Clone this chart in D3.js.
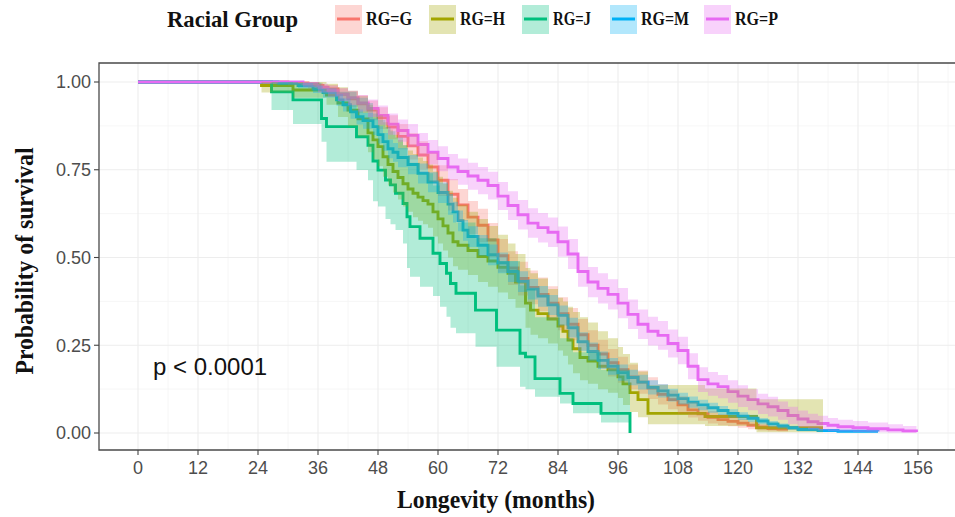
<!DOCTYPE html>
<html>
<head>
<meta charset="utf-8">
<script src="https://cdn.jsdelivr.net/npm/d3@7"></script>
<style>
  body { margin: 0; background: #fff; }
</style>
</head>
<body>
<div id="chart"></div>
<script>
// ---- data (months, survival probability, CI) ----
var groupNames = ["RG=G", "RG=H", "RG=J", "RG=M", "RG=P"];
var groupColors = ["#F8766D", "#A3A500", "#00BF7D", "#00B0F6", "#E76BF3"];
var xTicks = [0, 12, 24, 36, 48, 60, 72, 84, 96, 108, 120, 132, 144, 156];
var yTicks = [0, 0.25, 0.5, 0.75, 1];
var pLabel = "p < 0.0001";

var gTime = [0, 30, 34, 37, 40, 42, 44, 46, 48, 50, 52, 54, 56, 58, 60, 62, 64, 66, 68, 70, 72, 74, 76, 78, 80, 82, 84, 86, 88, 90, 92, 94, 96, 98, 100, 102, 104, 106, 108, 110, 112, 114, 116, 118, 120, 122, 124, 126, 128, 130];
var gSurv = [1, 0.997, 0.99, 0.98, 0.965, 0.952, 0.938, 0.92, 0.898, 0.872, 0.845, 0.818, 0.792, 0.758, 0.72, 0.68, 0.65, 0.615, 0.592, 0.55, 0.505, 0.47, 0.44, 0.415, 0.395, 0.37, 0.34, 0.31, 0.28, 0.25, 0.225, 0.2, 0.18, 0.16, 0.145, 0.128, 0.11, 0.095, 0.08, 0.066, 0.055, 0.045, 0.038, 0.033, 0.028, 0.022, 0.017, 0.013, 0.011, 0.011];
var gHi = [1, 1, 0.998, 0.992, 0.982, 0.973, 0.962, 0.947, 0.928, 0.905, 0.88, 0.855, 0.831, 0.799, 0.763, 0.724, 0.695, 0.661, 0.639, 0.598, 0.553, 0.518, 0.488, 0.463, 0.443, 0.418, 0.387, 0.356, 0.325, 0.293, 0.266, 0.239, 0.217, 0.195, 0.178, 0.159, 0.139, 0.122, 0.105, 0.088, 0.075, 0.063, 0.054, 0.047, 0.041, 0.033, 0.027, 0.021, 0.018, 0.018];
var gLo = [1, 0.99, 0.978, 0.965, 0.946, 0.929, 0.912, 0.891, 0.866, 0.837, 0.808, 0.779, 0.751, 0.715, 0.675, 0.634, 0.603, 0.567, 0.544, 0.501, 0.457, 0.422, 0.392, 0.367, 0.347, 0.322, 0.293, 0.264, 0.235, 0.207, 0.184, 0.161, 0.143, 0.125, 0.112, 0.097, 0.081, 0.068, 0.055, 0.044, 0.035, 0.027, 0.022, 0.019, 0.015, 0.011, 0.007, 0.005, 0.004, 0.004];

var hTime = [0, 24.7, 31, 37.7, 40, 42, 44, 46, 47, 48, 49, 50, 51, 52, 53, 54, 55, 56, 57, 58, 59, 60, 61, 62, 63, 64, 66, 68, 70, 72, 74, 75.5, 77.5, 78.5, 80, 82, 84, 85, 86, 87, 88.4, 90, 92, 94, 96, 97, 98.4, 100, 102, 113.4, 123.7, 137];
var hSurv = [1, 0.99, 0.977, 0.963, 0.94, 0.92, 0.895, 0.855, 0.835, 0.816, 0.787, 0.765, 0.745, 0.728, 0.71, 0.695, 0.683, 0.672, 0.662, 0.652, 0.63, 0.61, 0.59, 0.57, 0.545, 0.535, 0.52, 0.503, 0.49, 0.472, 0.455, 0.43, 0.37, 0.35, 0.34, 0.325, 0.305, 0.29, 0.265, 0.24, 0.215, 0.205, 0.19, 0.18, 0.16, 0.14, 0.115, 0.095, 0.056, 0.047, 0.015, 0.015];
var hHi = [1, 1, 1, 0.995, 0.985, 0.975, 0.96, 0.935, 0.92, 0.905, 0.885, 0.865, 0.85, 0.835, 0.82, 0.805, 0.795, 0.785, 0.775, 0.765, 0.745, 0.73, 0.71, 0.69, 0.67, 0.65, 0.63, 0.61, 0.59, 0.565, 0.54, 0.51, 0.47, 0.455, 0.44, 0.41, 0.385, 0.375, 0.36, 0.345, 0.33, 0.315, 0.29, 0.27, 0.245, 0.225, 0.2, 0.175, 0.137, 0.127, 0.096, 0.096];
var hLo = [1, 0.97, 0.955, 0.935, 0.9, 0.875, 0.845, 0.8, 0.78, 0.76, 0.73, 0.705, 0.685, 0.665, 0.645, 0.63, 0.615, 0.605, 0.595, 0.585, 0.56, 0.54, 0.52, 0.5, 0.475, 0.465, 0.45, 0.43, 0.417, 0.4, 0.382, 0.357, 0.3, 0.28, 0.27, 0.255, 0.235, 0.22, 0.195, 0.17, 0.15, 0.14, 0.125, 0.115, 0.1, 0.08, 0.06, 0.045, 0.025, 0.02, 0.002, 0.002];

var jTime = [0, 26.7, 31, 36.7, 37.7, 43.7, 46, 47, 48, 49.5, 50.5, 51.5, 53, 53.8, 54.4, 56.4, 59, 60.4, 61.7, 62.5, 63.6, 67.5, 71.7, 76.4, 77.5, 79.4, 84.4, 87, 92.6, 98.4];
var jSurv = [1, 0.972, 0.949, 0.896, 0.873, 0.844, 0.82, 0.775, 0.749, 0.721, 0.707, 0.683, 0.654, 0.616, 0.588, 0.555, 0.512, 0.483, 0.455, 0.426, 0.398, 0.35, 0.293, 0.227, 0.217, 0.155, 0.113, 0.084, 0.056, 0];
var jHi = [1, 1, 0.998, 0.98, 0.972, 0.955, 0.94, 0.91, 0.892, 0.872, 0.86, 0.842, 0.82, 0.79, 0.77, 0.74, 0.705, 0.68, 0.655, 0.63, 0.6, 0.555, 0.49, 0.42, 0.41, 0.33, 0.27, 0.23, 0.18, 0.18];
var jLo = [1, 0.92, 0.88, 0.83, 0.773, 0.749, 0.72, 0.66, 0.645, 0.61, 0.595, 0.578, 0.54, 0.47, 0.445, 0.417, 0.39, 0.36, 0.331, 0.3, 0.284, 0.246, 0.189, 0.132, 0.125, 0.103, 0.084, 0.056, 0.03, 0.03];

var mTime = [0, 28, 32, 35, 37, 39.7, 41, 42.5, 43.7, 45, 47, 48, 49, 50, 51, 52, 54, 56, 58, 60, 62, 63, 64, 65, 66, 68, 70, 72, 74, 76, 78, 80, 82, 84, 86, 88, 90, 92, 94, 96, 98, 100, 102, 104, 106, 108, 110, 112, 114, 116, 118, 120, 122, 124, 126, 128, 130, 132, 136, 140, 148];
var mSurv = [1, 0.997, 0.99, 0.98, 0.97, 0.949, 0.935, 0.915, 0.901, 0.89, 0.873, 0.85, 0.83, 0.81, 0.8, 0.785, 0.765, 0.74, 0.715, 0.685, 0.652, 0.63, 0.605, 0.578, 0.56, 0.535, 0.508, 0.485, 0.46, 0.432, 0.41, 0.39, 0.365, 0.335, 0.3, 0.26, 0.232, 0.207, 0.19, 0.172, 0.158, 0.145, 0.13, 0.12, 0.108, 0.098, 0.088, 0.08, 0.072, 0.064, 0.056, 0.048, 0.042, 0.034, 0.026, 0.02, 0.015, 0.01, 0.007, 0.005, 0.004];
var mHi = [1, 1, 0.997, 0.99, 0.983, 0.965, 0.953, 0.935, 0.922, 0.912, 0.896, 0.874, 0.855, 0.836, 0.826, 0.812, 0.792, 0.768, 0.743, 0.714, 0.681, 0.659, 0.634, 0.607, 0.589, 0.564, 0.537, 0.514, 0.489, 0.461, 0.439, 0.419, 0.393, 0.363, 0.328, 0.287, 0.258, 0.232, 0.214, 0.195, 0.18, 0.166, 0.15, 0.139, 0.126, 0.115, 0.104, 0.095, 0.086, 0.077, 0.068, 0.059, 0.052, 0.043, 0.034, 0.027, 0.021, 0.015, 0.011, 0.009, 0.008];
var mLo = [1, 0.992, 0.982, 0.969, 0.956, 0.932, 0.916, 0.895, 0.879, 0.867, 0.849, 0.825, 0.804, 0.783, 0.773, 0.757, 0.737, 0.711, 0.686, 0.655, 0.622, 0.6, 0.575, 0.548, 0.53, 0.505, 0.478, 0.455, 0.43, 0.402, 0.38, 0.36, 0.336, 0.306, 0.272, 0.233, 0.206, 0.182, 0.166, 0.149, 0.136, 0.124, 0.11, 0.101, 0.09, 0.081, 0.072, 0.065, 0.058, 0.051, 0.044, 0.037, 0.032, 0.025, 0.018, 0.013, 0.009, 0.005, 0.003, 0.002, 0.001];

var pTime = [0, 33, 36, 38, 40, 42, 44, 46, 48, 50, 52, 54, 56, 58, 60, 62, 64, 66, 68, 70, 72, 74, 76, 78, 80, 82, 84, 86, 88, 90, 92, 94, 96, 98, 100, 102, 104, 106, 108, 110, 112, 114, 116, 118, 120, 122, 124, 126, 128, 130, 132, 134, 136, 138, 140, 143, 146, 150, 153, 155.7];
var pSurv = [1, 0.995, 0.985, 0.975, 0.965, 0.955, 0.94, 0.925, 0.905, 0.88, 0.862, 0.848, 0.822, 0.8, 0.782, 0.758, 0.745, 0.732, 0.72, 0.705, 0.675, 0.648, 0.622, 0.598, 0.585, 0.572, 0.545, 0.51, 0.46, 0.43, 0.412, 0.395, 0.37, 0.338, 0.31, 0.29, 0.278, 0.255, 0.235, 0.19, 0.152, 0.14, 0.132, 0.118, 0.105, 0.095, 0.083, 0.075, 0.064, 0.05, 0.04, 0.032, 0.027, 0.022, 0.018, 0.015, 0.012, 0.009, 0.006, 0.003];
var pHi = [1, 1, 0.995, 0.99, 0.982, 0.975, 0.963, 0.95, 0.933, 0.91, 0.893, 0.88, 0.855, 0.835, 0.817, 0.795, 0.782, 0.77, 0.758, 0.744, 0.715, 0.689, 0.664, 0.64, 0.627, 0.614, 0.588, 0.553, 0.503, 0.473, 0.455, 0.438, 0.413, 0.38, 0.352, 0.331, 0.319, 0.295, 0.274, 0.227, 0.187, 0.174, 0.165, 0.15, 0.136, 0.125, 0.112, 0.103, 0.09, 0.075, 0.064, 0.055, 0.049, 0.043, 0.038, 0.034, 0.03, 0.025, 0.02, 0.018];
var pLo = [1, 0.985, 0.97, 0.958, 0.946, 0.934, 0.916, 0.9, 0.878, 0.85, 0.83, 0.815, 0.788, 0.765, 0.746, 0.72, 0.707, 0.693, 0.68, 0.665, 0.635, 0.607, 0.58, 0.556, 0.543, 0.53, 0.502, 0.467, 0.417, 0.387, 0.369, 0.352, 0.327, 0.296, 0.268, 0.249, 0.237, 0.215, 0.196, 0.153, 0.117, 0.106, 0.099, 0.086, 0.074, 0.065, 0.054, 0.047, 0.038, 0.025, 0.016, 0.011, 0.008, 0.005, 0.004, 0.003, 0.002, 0.001, 0, 0];

var times = [gTime, hTime, jTime, mTime, pTime];
var survs = [gSurv, hSurv, jSurv, mSurv, pSurv];
var his = [gHi, hHi, jHi, mHi, pHi];
var los = [gLo, hLo, jLo, mLo, pLo];

var series = groupNames.map(function (name, i) {
    return {
        name: name,
        color: groupColors[i],
        rows: times[i].map(function (t, k) {
            return { t: t, s: survs[i][k], hi: his[i][k], lo: los[i][k] };
        })
    };
});

// ---- layout ----
var width = 955, height = 517;
var panel = { left: 99, right: 961, top: 63, bottom: 450 };

var x = d3.scaleLinear().domain([0, 156]).range([138, 918]);
var y = d3.scaleLinear().domain([0, 1]).range([433, 82]);

var svg = d3.select("#chart")
    .append("svg")
    .attr("width", width)
    .attr("height", height)
    .style("font-family", "'Liberation Sans', Arial, sans-serif");

svg.append("defs").append("clipPath")
    .attr("id", "panelClip")
    .append("rect")
    .attr("x", panel.left)
    .attr("y", panel.top)
    .attr("width", panel.right - panel.left)
    .attr("height", panel.bottom - panel.top);

var plot = svg.append("g").attr("clip-path", "url(#panelClip)");

// grid (minor first, then major)
var xMinor = xTicks.map(function (d) { return d + 6; });
var yMinor = [0.125, 0.375, 0.625, 0.875];

plot.selectAll(".xminor").data(xMinor).enter().append("line")
    .attr("x1", function (d) { return x(d); }).attr("x2", function (d) { return x(d); })
    .attr("y1", panel.top).attr("y2", panel.bottom)
    .attr("stroke", "#f4f4f4").attr("stroke-width", 0.8);
plot.selectAll(".yminor").data(yMinor).enter().append("line")
    .attr("x1", panel.left).attr("x2", panel.right)
    .attr("y1", function (d) { return y(d); }).attr("y2", function (d) { return y(d); })
    .attr("stroke", "#f4f4f4").attr("stroke-width", 0.8);
plot.selectAll(".xmajor").data(xTicks).enter().append("line")
    .attr("x1", function (d) { return x(d); }).attr("x2", function (d) { return x(d); })
    .attr("y1", panel.top).attr("y2", panel.bottom)
    .attr("stroke", "#ededed").attr("stroke-width", 1.1);
plot.selectAll(".ymajor").data(yTicks).enter().append("line")
    .attr("x1", panel.left).attr("x2", panel.right)
    .attr("y1", function (d) { return y(d); }).attr("y2", function (d) { return y(d); })
    .attr("stroke", "#ededed").attr("stroke-width", 1.1);

// survival steps (drawn first, ribbons go on top like survminer does)
var line = d3.line()
    .curve(d3.curveStepAfter)
    .x(function (d) { return x(d.t); })
    .y(function (d) { return y(d.s); });

var area = d3.area()
    .curve(d3.curveStepAfter)
    .x(function (d) { return x(d.t); })
    .y0(function (d) { return y(d.lo); })
    .y1(function (d) { return y(d.hi); });

plot.selectAll(".surv").data(series).enter().append("path")
    .attr("class", "surv")
    .attr("d", function (d) { return line(d.rows); })
    .attr("fill", "none")
    .attr("stroke", function (d) { return d.color; })
    .attr("stroke-width", 2.9);

plot.selectAll(".ci").data(series).enter().append("path")
    .attr("class", "ci")
    .attr("d", function (d) { return area(d.rows); })
    .attr("fill", function (d) { return d.color; })
    .attr("fill-opacity", 0.3)
    .attr("stroke", "none");

// p value
svg.append("text")
    .attr("x", x(3))
    .attr("y", y(0.165))
    .style("font-size", "24px")
    .attr("fill", "#111")
    .text(pLabel);

// panel border (top, left, bottom)
svg.append("path")
    .attr("d", "M" + panel.right + "," + panel.top + "H" + panel.left + "V" + panel.bottom + "H" + panel.right)
    .attr("fill", "none")
    .attr("stroke", "#4a4a4a")
    .attr("stroke-width", 1.3);

// x axis ticks + labels
var xAxis = svg.append("g");
xAxis.selectAll("line").data(xTicks).enter().append("line")
    .attr("x1", function (d) { return x(d); }).attr("x2", function (d) { return x(d); })
    .attr("y1", panel.bottom).attr("y2", panel.bottom + 5)
    .attr("stroke", "#444").attr("stroke-width", 1.1);
xAxis.selectAll("text").data(xTicks).enter().append("text")
    .attr("x", function (d) { return x(d); })
    .attr("y", 474)
    .attr("text-anchor", "middle")
    .style("font-size", "18px")
    .attr("fill", "#4d4d4d")
    .text(function (d) { return d; });

// y axis ticks + labels
var fmt = d3.format(".2f");
var yAxis = svg.append("g");
yAxis.selectAll("line").data(yTicks).enter().append("line")
    .attr("x1", panel.left - 5).attr("x2", panel.left)
    .attr("y1", function (d) { return y(d); }).attr("y2", function (d) { return y(d); })
    .attr("stroke", "#444").attr("stroke-width", 1.1);
yAxis.selectAll("text").data(yTicks).enter().append("text")
    .attr("x", 91)
    .attr("y", function (d) { return y(d); })
    .attr("dy", "0.36em")
    .attr("text-anchor", "end")
    .style("font-size", "18px")
    .attr("fill", "#4d4d4d")
    .text(function (d) { return fmt(d); });

// axis titles
var serif = "'Liberation Serif', 'DejaVu Serif', serif";
svg.append("text")
    .attr("x", 496)
    .attr("y", 508)
    .attr("text-anchor", "middle")
    .attr("textLength", 198)
    .attr("lengthAdjust", "spacingAndGlyphs")
    .style("font-family", serif)
    .style("font-weight", "bold")
    .style("font-size", "25px")
    .attr("fill", "#111")
    .text("Longevity (months)");

svg.append("text")
    .attr("transform", "translate(33,261) rotate(-90)")
    .attr("text-anchor", "middle")
    .attr("textLength", 227)
    .attr("lengthAdjust", "spacingAndGlyphs")
    .style("font-family", serif)
    .style("font-weight", "bold")
    .style("font-size", "25px")
    .attr("fill", "#111")
    .text("Probability of survival");

// legend
var legend = svg.append("g");
legend.append("text")
    .attr("x", 167)
    .attr("y", 27)
    .attr("textLength", 131)
    .attr("lengthAdjust", "spacingAndGlyphs")
    .style("font-family", serif)
    .style("font-weight", "bold")
    .style("font-size", "24px")
    .attr("fill", "#111")
    .text("Racial Group");

var keyX = [335, 429, 522, 610, 704];
var labelW = [46, 45, 38, 48, 43];
var keys = legend.selectAll(".key").data(series).enter().append("g")
    .attr("transform", function (d, i) { return "translate(" + keyX[i] + ",0)"; });
keys.append("line")
    .attr("x1", 2).attr("x2", 25).attr("y1", 19).attr("y2", 19)
    .attr("stroke", function (d) { return d.color; })
    .attr("stroke-width", 3);
keys.append("rect")
    .attr("x", 0).attr("y", 5).attr("width", 27).attr("height", 29)
    .attr("fill", function (d) { return d.color; })
    .attr("fill-opacity", 0.3);
keys.append("text")
    .attr("x", 31)
    .attr("y", 25)
    .attr("textLength", function (d, i) { return labelW[i]; })
    .attr("lengthAdjust", "spacingAndGlyphs")
    .style("font-family", serif)
    .style("font-weight", "bold")
    .style("font-size", "18px")
    .attr("fill", "#111")
    .text(function (d) { return d.name; });
</script>
</body>
</html>
